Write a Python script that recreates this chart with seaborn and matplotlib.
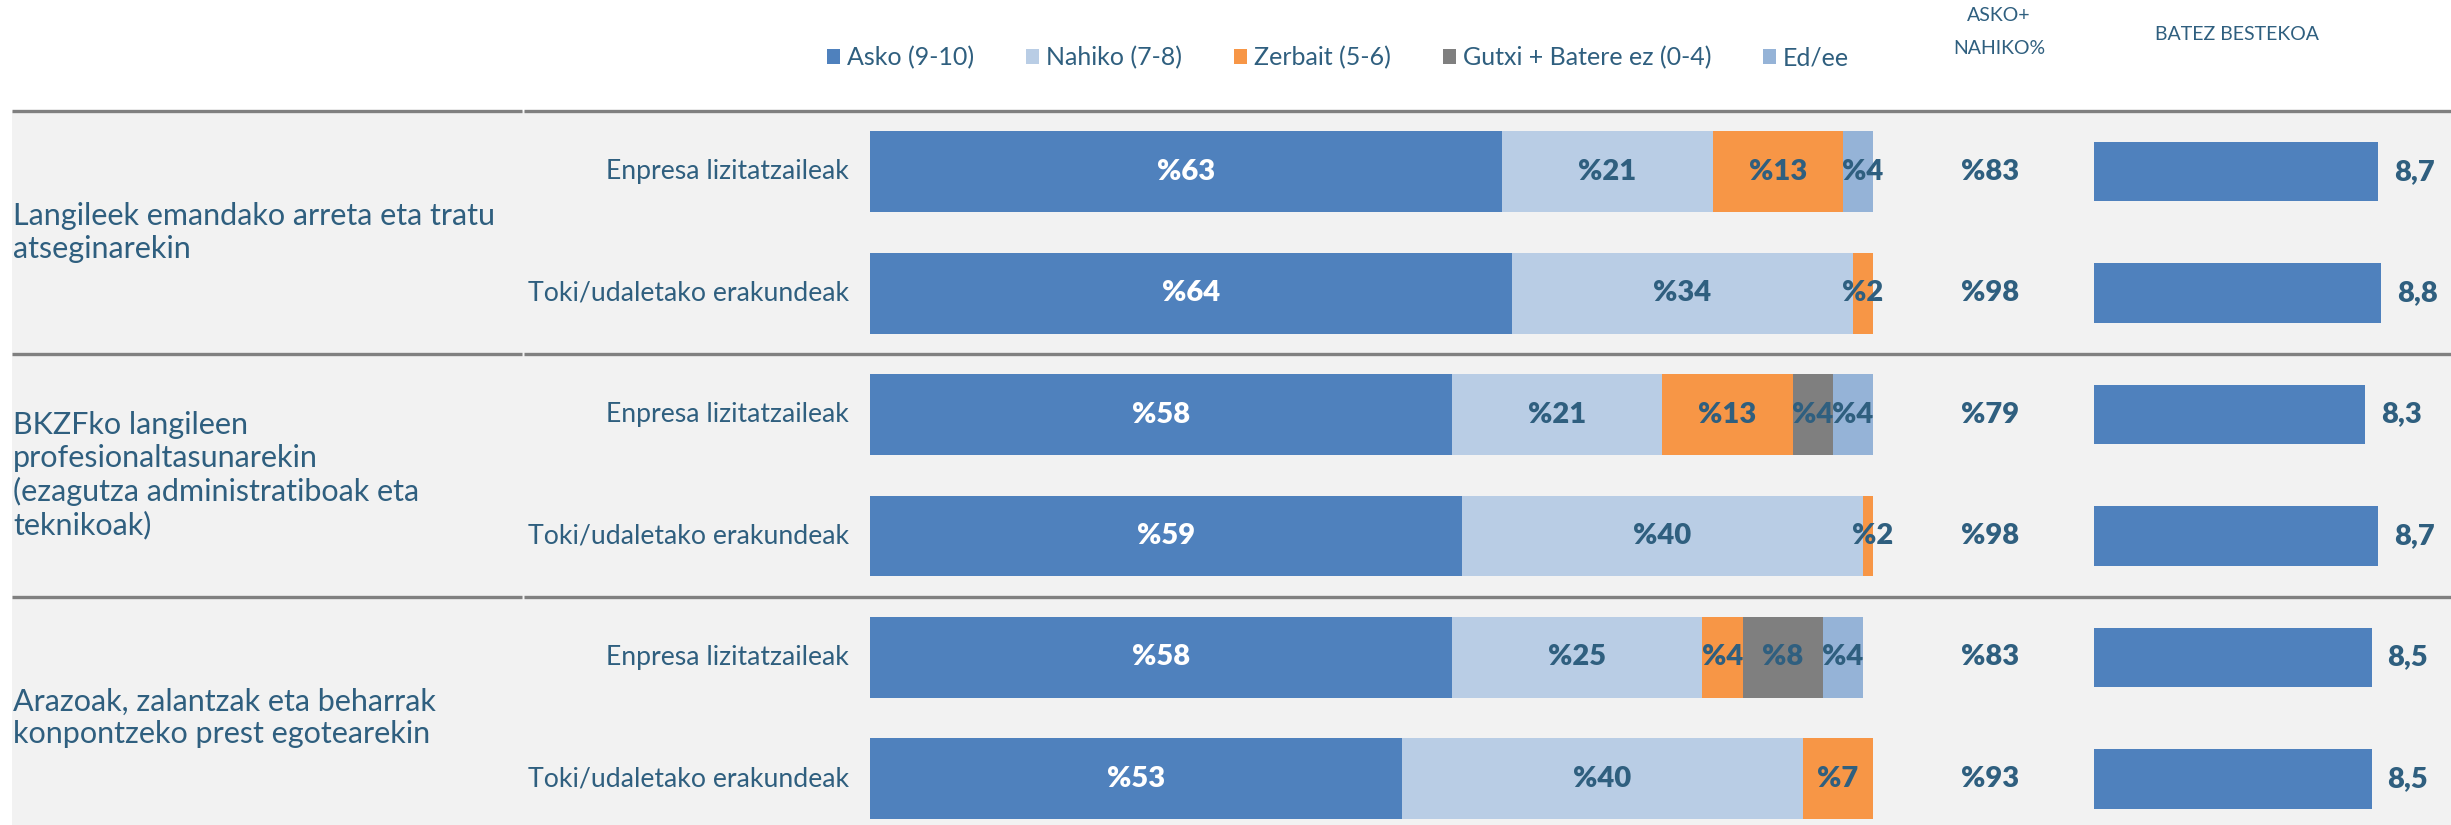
import numpy as np
import pandas as pd
import matplotlib
matplotlib.use("Agg")
import matplotlib.pyplot as plt
import matplotlib.transforms as mtransforms
from matplotlib.lines import Line2D
from matplotlib.patches import Rectangle, Patch
import seaborn as sns

# ---- data -------------------------------------------------------------
groups = [
    "Langileek emandako arreta eta tratu\natseginarekin",
    "BKZFko langileen\nprofesionaltasunarekin\n(ezagutza administratiboak eta\nteknikoak)",
    "Arazoak, zalantzak eta beharrak\nkonpontzeko prest egotearekin",
]
respondents = ["Enpresa lizitatzaileak", "Toki/udaletako erakundeak"]
series_names = ["Asko (9-10)", "Nahiko (7-8)", "Zerbait (5-6)",
                "Gutxi + Batere ez (0-4)", "Ed/ee"]

asko = [63, 64, 58, 59, 58, 53]
nahiko = [21, 34, 21, 40, 25, 40]
zerbait = [13, 2, 13, 2, 4, 7]
gutxi = [0, 0, 4, 0, 8, 0]
edee = [4, 0, 4, 0, 4, 0]
asko_nahiko = [83, 98, 79, 98, 83, 93]
batez_bestekoa = [8.7, 8.8, 8.3, 8.7, 8.5, 8.5]

header_top = "ASKO+\nNAHIKO%"
header_mean = "BATEZ BESTEKOA"

# ---- style ------------------------------------------------------------
sns.set_style("white")
plt.rcParams["font.family"] = ["Lato", "DejaVu Sans"]

series_colors = ["#4F81BD", "#B9CDE5", "#F79646", "#7F7F7F", "#95B3D7"]
text_col = "#2F5F7F"
panel_col = "#F2F2F2"
rule_col = "#808080"
value_size = 21
value_weight = "heavy"

W, H = 2451, 825
fig = plt.figure(figsize=(W / 100, H / 100), dpi=100)
fig.patch.set_facecolor("white")

panel_top = 111  # px from top where the grey table body starts
body_h = (H - panel_top) / H
fig.patches.append(Rectangle((12 / W, 0), 1 - 12 / W, body_h,
                             transform=fig.transFigure, facecolor=panel_col,
                             edgecolor="none", zorder=-10))

# ---- long-form table ----------------------------------------------------
row_keys = [f"{g}|{r}" for g in range(len(groups)) for r in respondents]
row_resp = [r for g in range(len(groups)) for r in respondents]
layers = pd.DataFrame({
    series_names[0]: asko,
    series_names[1]: nahiko,
    series_names[2]: zerbait,
    series_names[3]: gutxi,
    series_names[4]: edee,
}, index=row_keys)
cum = layers.cumsum(axis=1)

ylims = (5.38, -0.5)

# ---- stacked percentage bars -------------------------------------------
ax = fig.add_axes([870 / W, 0, (1873 - 870) / W, body_h])
ax.set_facecolor("none")
for name, color in reversed(list(zip(series_names, series_colors))):
    sns.barplot(x=cum[name].values, y=row_keys, orient="h", color=color,
                saturation=1, width=0.667, errorbar=None, linewidth=0,
                ax=ax)
ax.set_xlim(0, 100)
ax.set_ylim(*ylims)
ax.axis("off")

for i, key in enumerate(row_keys):
    left = 0
    for j, name in enumerate(series_names):
        v = layers.loc[key, name]
        if v > 0:
            ax.text(left + v / 2, i, f"%{v}", ha="center", va="center",
                    fontsize=value_size, fontweight=value_weight,
                    color="white" if j == 0 else text_col)
        left += v

row_trans = mtransforms.blended_transform_factory(fig.transFigure, ax.transData)

# ASKO+NAHIKO% column
for i, v in enumerate(asko_nahiko):
    fig.text(1990 / W, i, f"%{v}", transform=row_trans, ha="center",
             va="center", fontsize=value_size, fontweight=value_weight,
             color=text_col)

# row and group labels
for i, r in enumerate(row_resp):
    fig.text(849 / W, i, r, transform=row_trans, ha="right", va="center",
             fontsize=19.2, color=text_col)
for g, label in enumerate(groups):
    fig.text(13 / W, 2 * g + 0.5, label, transform=row_trans, ha="left",
             va="center", fontsize=22, color=text_col, linespacing=1.2)

# horizontal rules between groups
for yb in [-0.5, 1.5, 3.5]:
    for x0, x1 in [(12 / W, 522 / W), (524 / W, 1.0)]:
        fig.add_artist(Line2D([x0, x1], [yb, yb], transform=row_trans,
                              color=rule_col, linewidth=2.4,
                              solid_capstyle="butt", zorder=3))

# ---- mean score bars ----------------------------------------------------
axm = fig.add_axes([2094 / W, 0, 326.5 / W, body_h])
axm.set_facecolor("none")
sns.barplot(x=batez_bestekoa, y=row_keys, orient="h", color=series_colors[0],
            saturation=1, width=0.49, errorbar=None, linewidth=0, ax=axm)
axm.set_xlim(0, 10)
axm.set_ylim(*ylims)
axm.axis("off")
for i, v in enumerate(batez_bestekoa):
    axm.annotate(f"{v:.1f}".replace(".", ","), xy=(v, i), xytext=(11.5, 0),
                 textcoords="offset points", ha="left", va="center",
                 fontsize=value_size, fontweight=value_weight, color=text_col,
                 annotation_clip=False)

# ---- legend and column headers -----------------------------------------
handles = [Patch(facecolor=c, edgecolor="none") for c in series_colors]
fig.legend(handles, series_names, loc="center",
           bbox_to_anchor=(1338 / W, 1 - 58 / H), ncol=5, frameon=False,
           handlelength=0.52, handleheight=0.56, handletextpad=0.28,
           columnspacing=2.08, fontsize=18, labelcolor=text_col,
           borderaxespad=0, borderpad=0)

fig.text(1999 / W, 1 - 32 / H, header_top, ha="center", va="center",
         fontsize=14, color=text_col, linespacing=2.1)
fig.text(2237 / W, 1 - 34 / H, header_mean, ha="center", va="center",
         fontsize=14, color=text_col)

fig.savefig("out.png", dpi=100)
